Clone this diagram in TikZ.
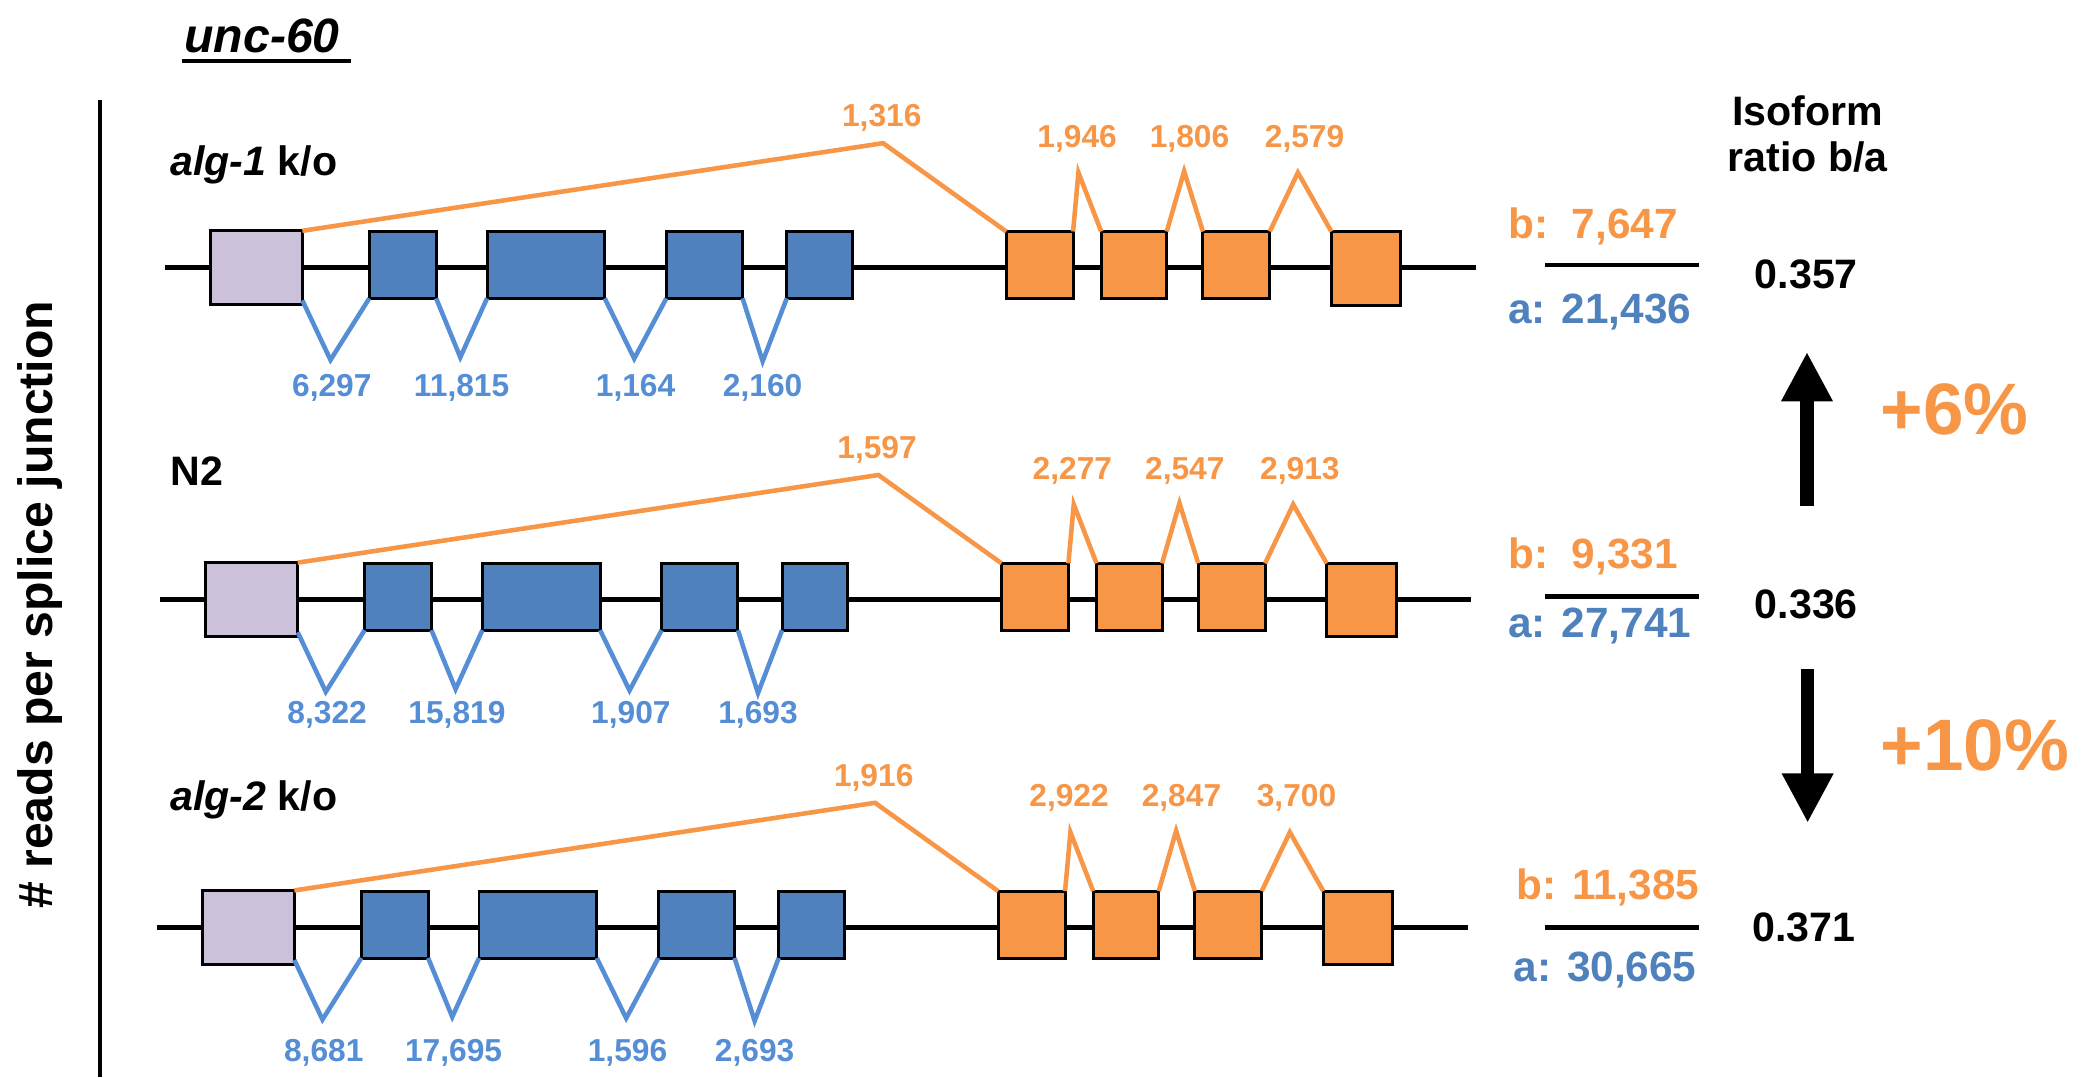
\documentclass[tikz,border=0pt]{standalone}
\usepackage{fontspec}
\setmainfont{Liberation Sans}
\usetikzlibrary{arrows.meta}
\definecolor{orng}{HTML}{F79646}
\definecolor{bluebox}{HTML}{4F81BD}
\definecolor{bluetxt}{HTML}{558ED5}
\definecolor{lav}{HTML}{CCC1DA}
\newcommand\upx{0.02cm}
\newcommand\fs[1]{\bfseries\fontsize{#1}{#1}\selectfont}
\tikzset{
  backbone/.style={line width=4*\upx, draw=black},
  exon/.style={draw=black, line width=2.2*\upx, minimum width=#1*\upx, minimum height=50*\upx, inner sep=0pt, outer sep=0pt},
  ojunc/.style={draw=orng, line width=3.4*\upx},
  bjunc/.style={draw=bluetxt, line width=3.4*\upx},
  olab/.style={text=orng, font=\fs{13.5}, inner sep=0pt},
  blab/.style={text=bluetxt, font=\fs{13.5}, inner sep=0pt},
  fracb/.style={text=orng, font=\fs{18}, inner sep=0pt, anchor=west},
  fraca/.style={text=bluebox, font=\fs{18}, inner sep=0pt, anchor=west},
  fracline/.style={draw=black, line width=3.4*\upx},
  ratio/.style={font=\fs{17.5}, inner sep=0pt},
  rowlab/.style={font=\fs{17.5}, inner sep=0pt, anchor=base west},
  pct/.style={text=orng, font=\fs{31}, inner sep=0pt},
  bigarrow/.style={draw=black, line width=10*\upx, -{Triangle[width=0.72cm,length=0.74cm]}},
  gene/.pic={
    \coordinate (-bs) at (123,0);
    \coordinate (-be) at (1103,0);
    \draw[backbone] (-bs) -- (-be);
    \node[exon=69, minimum height=55*\upx, fill=lav] (-lav) at (191.5,0) {};
    \node[exon=50, fill=bluebox] (-b1) at (301,-2) {};
    \node[exon=88, fill=bluebox] (-b2) at (408,-2) {};
    \node[exon=57, fill=bluebox] (-b3) at (526.5,-2) {};
    \node[exon=49, fill=bluebox] (-b4) at (612.5,-2) {};
    \node[exon=50, fill=orng] (-o1) at (777,-2) {};
    \node[exon=49, fill=orng] (-o2) at (847.5,-2) {};
    \node[exon=50, fill=orng] (-o3) at (924,-2) {};
    \node[exon=52, minimum height=55*\upx, fill=orng] (-o4) at (1021,0.5) {};
    \coordinate (-pk0) at (660,-93);
    \coordinate (-pk1) at (806,-71);
    \coordinate (-pk2) at (885,-72);
    \coordinate (-pk3) at (970,-71);
    \coordinate (-v1) at (247,69);
    \coordinate (-v2) at (344,67);
    \coordinate (-v3) at (474,68);
    \coordinate (-v4) at (570,70);
    \coordinate (-t0) at (659,-112);
    \coordinate (-t1) at (805,-96);
    \coordinate (-t2) at (889,-96);
    \coordinate (-t3) at (975,-96);
    \coordinate (-u1) at (248,90);
    \coordinate (-u2) at (345,90);
    \coordinate (-u3) at (475,90);
    \coordinate (-u4) at (570,90);
    \draw[ojunc] (-lav.north east) -- (-pk0) -- (-o1.north west);
    \draw[ojunc] (-o1.north east) -- (-pk1) -- (-o2.north west);
    \draw[ojunc] (-o2.north east) -- (-pk2) -- (-o3.north west);
    \draw[ojunc] (-o3.north east) -- (-pk3) -- (-o4.north west);
    \draw[bjunc] ([yshift=3*\upx]-lav.south east) -- (-v1) -- (-b1.south west);
    \draw[bjunc] (-b1.south east) -- (-v2) -- (-b2.south west);
    \draw[bjunc] (-b2.south east) -- (-v3) -- (-b3.south west);
    \draw[bjunc] (-b3.south east) -- (-v4) -- (-b4.south west);
  }
}
\begin{document}
\begin{tikzpicture}[x=0.02cm, y=-0.02cm]
\useasboundingbox (0,0) rectangle (1568,805);
\fill[white] (0,0) rectangle (1568,805);

% title
\node[font=\bfseries\itshape\fontsize{20.5}{20.5}\selectfont, inner sep=0pt, anchor=base west] (title) at (137.5,39.5) {unc-60};
\coordinate (ul1) at (136,45.5);
\coordinate (ul2) at (262,45.5);
\draw[line width=3*\upx] (ul1) -- (ul2);

% axis
\coordinate (ax1) at (75,75);
\coordinate (ax2) at (75,805);
\draw[line width=3.2*\upx] (ax1) -- (ax2);
\node[rotate=90, font=\fs{20.5}, inner sep=0pt] (ylab) at (30,452) {\# reads per splice junction};

% header
\node[font=\fs{17.5}, align=center, inner sep=0pt] (iso) at (1351,100) {Isoform\\[2pt]ratio b/a};

% row 1
\node[rowlab] (lab1) at (127,131) {\textit{alg-1} k/o};
\pic (r1) at (0,200) {gene};
\node[olab] (r1-l0) at (r1-t0) {1,316};
\node[olab] (r1-l1) at (r1-t1) {1,946};
\node[olab] (r1-l2) at (r1-t2) {1,806};
\node[olab] (r1-l3) at (r1-t3) {2,579};
\node[blab] (r1-m1) at (r1-u1) {6,297};
\node[blab] (r1-m2) at (r1-u2) {11,815};
\node[blab] (r1-m3) at (r1-u3) {1,164};
\node[blab] (r1-m4) at (r1-u4) {2,160};
\node[fracb] (r1-b) at (1127,169) {b:~~7,647};
\node[fraca] (r1-a) at (1127,233) {a: 21,436};
\coordinate (r1-f1) at (1155,198);
\coordinate (r1-f2) at (1270,198);
\draw[fracline] (r1-f1) -- (r1-f2);
\node[ratio] (r1-r) at (1350,205) {0.357};

% row 2
\node[rowlab] (lab2) at (127,363) {N2};
\pic (r2) at (-3.5,448) {gene};
\node[olab] (r2-l0) at (r2-t0) {1,597};
\node[olab] (r2-l1) at (r2-t1) {2,277};
\node[olab] (r2-l2) at (r2-t2) {2,547};
\node[olab] (r2-l3) at (r2-t3) {2,913};
\node[blab, yshift=4*\upx] (r2-m1) at (r2-u1) {8,322};
\node[blab, yshift=4*\upx] (r2-m2) at (r2-u2) {15,819};
\node[blab, yshift=4*\upx] (r2-m3) at (r2-u3) {1,907};
\node[blab, yshift=4*\upx] (r2-m4) at (r2-u4) {1,693};
\node[fracb] (r2-b) at (1127,416) {b:~~9,331};
\node[fraca] (r2-a) at (1127,468) {a: 27,741};
\coordinate (r2-f1) at (1155,446);
\coordinate (r2-f2) at (1270,446);
\draw[fracline] (r2-f1) -- (r2-f2);
\node[ratio] (r2-r) at (1350,452) {0.336};

% row 3
\node[rowlab] (lab3) at (127,606) {\textit{alg-2} k/o};
\pic (r3) at (-6,693) {gene};
\node[olab] (r3-l0) at (r3-t0) {1,916};
\node[olab, yshift=1*\upx] (r3-l1) at (r3-t1) {2,922};
\node[olab, yshift=1*\upx] (r3-l2) at (r3-t2) {2,847};
\node[olab, yshift=1*\upx] (r3-l3) at (r3-t3) {3,700};
\node[blab, yshift=-4*\upx] (r3-m1) at (r3-u1) {8,681};
\node[blab, yshift=-4*\upx] (r3-m2) at (r3-u2) {17,695};
\node[blab, yshift=-4*\upx] (r3-m3) at (r3-u3) {1,596};
\node[blab, yshift=-4*\upx] (r3-m4) at (r3-u4) {2,693};
\node[fracb] (r3-b) at (1133,663) {b: 11,385};
\node[fraca] (r3-a) at (1131,725) {a: 30,665};
\coordinate (r3-f1) at (1155,693);
\coordinate (r3-f2) at (1270,693);
\draw[fracline] (r3-f1) -- (r3-f2);
\node[ratio] (r3-r) at (1348,693) {0.371};

% arrows
\coordinate (upT) at (1350.5,378);
\coordinate (upH) at (1350.5,263);
\draw[bigarrow] (upT) -- (upH);
\coordinate (dnT) at (1351,500);
\coordinate (dnH) at (1351,615);
\draw[bigarrow] (dnT) -- (dnH);
\node[pct] (p6) at (1461,306) {+6\%};
\node[pct] (p10) at (1476,557) {+10\%};
\end{tikzpicture}
\end{document}
